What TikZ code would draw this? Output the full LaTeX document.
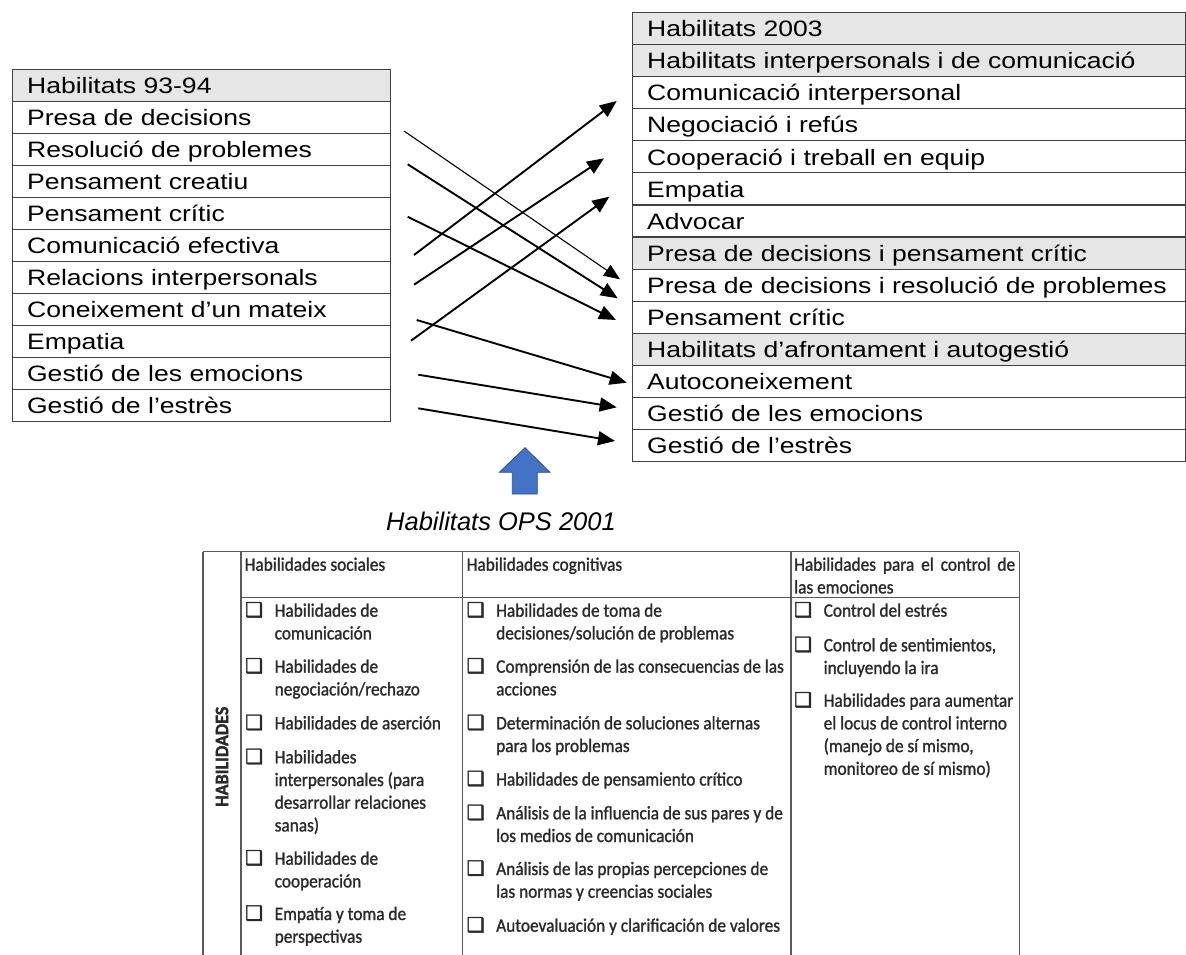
\documentclass[tikz,border=0pt]{standalone}
\usepackage{fontspec}
\setmainfont{Liberation Sans}
\newfontfamily\tabfont[FakeStretch=1.19]{Liberation Sans}
\newfontfamily\capfont{Liberation Sans}
\newfontfamily\opsfont[FakeStretch=0.91,FakeBold=1.2]{Carlito}
\newfontfamily\habfont[FakeStretch=0.95,FakeBold=1.5]{Carlito}
\newfontfamily\symfont[FakeBold=2]{DejaVu Sans}
\usetikzlibrary{arrows.meta}
\definecolor{tabline}{HTML}{404040}
\definecolor{headfill}{HTML}{E6E6E6}
\definecolor{opsline}{HTML}{5A5A5A}
\definecolor{opstext}{HTML}{2A2A2A}
\definecolor{blockblue}{HTML}{4472C4}
\definecolor{blockedge}{HTML}{2F528F}
\newcommand\chkbox{\makebox[29.5pt][l]{{\symfont\fontsize{20}{20}\selectfont ❑}}}
\newcommand\opsitem[2]{\parbox[t]{#1}{\raggedright\let\\\newline\hangindent=29.5pt\hangafter=1\noindent\chkbox #2}}
\tikzset{
  trow/.style={draw=tabline, line width=1.2pt, anchor=north west, inner xsep=14.5pt, inner ysep=0pt,
    text height=21.6pt, text depth=5pt, align=left, font=\tabfont\fontsize{22.3}{26}\selectfont},
  lrow/.style={trow, text width=349pt, minimum height=32pt},
  rrow/.style={trow, text width=524pt, minimum height=32.1pt},
  hd/.style={fill=headfill},
  conn/.style={line width=1.9pt, -{Triangle[length=17pt,width=14pt]}},
  thinconn/.style={line width=1.1pt, -{Triangle[length=16pt,width=13pt]}},
  opsnode/.style={anchor=base west, inner sep=0pt, text=opstext, font=\opsfont\fontsize{19}{22.7}\selectfont},
  opsrule/.style={draw=opsline, line width=1.3pt},
}
\begin{document}
\begin{tikzpicture}[x=1pt,y=-1pt]
\useasboundingbox (0,0) rectangle (1186,954);
\fill[white] (0,0) rectangle (1186,954);

% ---- left table (Habilitats 93-94)
\node[lrow,hd] (L0) at (12,69) {Habilitats 93-94};
\node[lrow] (L1) at (12,101) {Presa de decisions};
\node[lrow] (L2) at (12,133) {Resolució de problemes};
\node[lrow] (L3) at (12,165) {Pensament creatiu};
\node[lrow] (L4) at (12,197) {Pensament crític};
\node[lrow] (L5) at (12,229) {Comunicació efectiva};
\node[lrow] (L6) at (12,261) {Relacions interpersonals};
\node[lrow] (L7) at (12,293) {Coneixement d’un mateix};
\node[lrow] (L8) at (12,325) {Empatia};
\node[lrow] (L9) at (12,357) {Gestió de les emocions};
\node[lrow] (L10) at (12,389) {Gestió de l’estrès};

% ---- right table (Habilitats 2003)
\node[rrow,hd] (R0) at (632,11.7) {Habilitats 2003};
\node[rrow,hd] (R1) at (632,43.8) {Habilitats interpersonals i de comunicació};
\node[rrow] (R2) at (632,75.9) {Comunicació interpersonal};
\node[rrow] (R3) at (632,108.0) {Negociació i refús};
\node[rrow] (R4) at (632,140.1) {Cooperació i treball en equip};
\node[rrow] (R5) at (632,172.2) {Empatia};
\node[rrow] (R6) at (632,204.3) {Advocar};
\node[rrow,hd] (R7) at (632,236.4) {Presa de decisions i pensament crític};
\node[rrow] (R8) at (632,268.5) {Presa de decisions i resolució de problemes};
\node[rrow] (R9) at (632,300.6) {Pensament crític};
\node[rrow,hd] (R10) at (632,332.7) {Habilitats d’afrontament i autogestió};
\node[rrow] (R11) at (632,364.8) {Autoconeixement};
\node[rrow] (R12) at (632,396.9) {Gestió de les emocions};
\node[rrow] (R13) at (632,429.0) {Gestió de l’estrès};

% ---- connector ends
\coordinate (a1s) at (404,131);   \coordinate (a1e) at (620,279.3);
\coordinate (a2s) at (407.7,164.3); \coordinate (a2e) at (617.7,298.3);
\coordinate (a3s) at (407.7,216.7); \coordinate (a3e) at (616,320);
\coordinate (a4s) at (414,255);   \coordinate (a4e) at (616.7,101);
\coordinate (a5s) at (414,284.7); \coordinate (a5e) at (604,158.3);
\coordinate (a6s) at (411,340.7); \coordinate (a6e) at (609.3,196.7);
\coordinate (a7s) at (416.7,320); \coordinate (a7e) at (626.7,382.7);
\coordinate (a8s) at (418.3,374.7); \coordinate (a8e) at (616.7,407.3);
\coordinate (a9s) at (418.3,408.3); \coordinate (a9e) at (615,441);

\draw[thinconn] (a1s) -- (a1e);
\draw[conn] (a2s) -- (a2e);
\draw[conn] (a3s) -- (a3e);
\draw[conn] (a4s) -- (a4e);
\draw[conn] (a5s) -- (a5e);
\draw[conn] (a6s) -- (a6e);
\draw[conn] (a7s) -- (a7e);
\draw[conn] (a8s) -- (a8e);
\draw[conn] (a9s) -- (a9e);

% ---- blue block arrow
\draw[fill=blockblue, draw=blockedge, line width=0.8pt]
  (525,447.7) -- (550,472.3) -- (537.3,472.3) -- (537.3,494) -- (512.3,494)
  -- (512.3,472.3) -- (499.3,472.3) -- cycle;

\node[anchor=base, inner sep=0pt, font=\capfont\itshape\fontsize{25.5}{25.5}\selectfont] (cap) at (501,530) {Habilitats OPS 2001};

% ---- OPS table grid
\draw[opsrule] (203,551.5) -- (1019.3,551.5);
\draw[opsrule] (241,597.7) -- (1019.3,597.7);
\draw[opsrule] (203,551.5) -- (203,956);
\draw[opsrule] (241,551.5) -- (241,956);
\draw[opsrule] (462.7,551.5) -- (462.7,956);
\draw[opsrule] (791,551.5) -- (791,956);
\draw[opsrule] (1019.3,551.5) -- (1019.3,956);

\node[rotate=90, inner sep=0pt, text=opstext, font=\habfont\bfseries\fontsize{19}{19}\selectfont] (hab) at (222,756.7) {HABILIDADES};

\node[opsnode] (h1) at (244.5,570.7) {Habilidades sociales};
\node[opsnode] (h2) at (466.5,570.7) {Habilidades cognitivas};
\node[opsnode] (h3) at (794,570.7) {\parbox[t]{221pt}{\makebox[221pt][s]{Habilidades para el control de}\\las emociones}};

% column 1
\node[opsnode] (s1) at (245,616.7) {\opsitem{300pt}{Habilidades de\\comunicación}};
\node[opsnode] (s2) at (245,672.7) {\opsitem{300pt}{Habilidades de\\negociación/rechazo}};
\node[opsnode] (s3) at (245,729.3) {\opsitem{300pt}{Habilidades de aserción}};
\node[opsnode] (s4) at (245,763.3) {\opsitem{300pt}{Habilidades\\interpersonales (para\\desarrollar relaciones\\sanas)}};
\node[opsnode] (s5) at (245,864.7) {\opsitem{300pt}{Habilidades de\\cooperación}};
\node[opsnode] (s6) at (245,920) {\opsitem{300pt}{Empatía y toma de\\perspectivas}};

% column 2
\node[opsnode] (c1) at (466.5,616.7) {\opsitem{400pt}{Habilidades de toma de\\decisiones/solución de problemas}};
\node[opsnode] (c2) at (466.5,672.7) {\opsitem{400pt}{Comprensión de las consecuencias de las\\acciones}};
\node[opsnode] (c3) at (466.5,729.3) {\opsitem{400pt}{Determinación de soluciones alternas\\para los problemas}};
\node[opsnode] (c4) at (466.5,785.5) {\opsitem{400pt}{Habilidades de pensamiento crítico}};
\node[opsnode] (c5) at (466.5,819.3) {\opsitem{400pt}{Análisis de la influencia de sus pares y de\\los medios de comunicación}};
\node[opsnode] (c6) at (466.5,875) {\opsitem{400pt}{Análisis de las propias percepciones de\\las normas y creencias sociales}};
\node[opsnode] (c7) at (466.5,931.7) {\opsitem{400pt}{Autoevaluación y clarificación de valores}};

% column 3
\node[opsnode] (e1) at (794,616.7) {\opsitem{300pt}{Control del estrés}};
\node[opsnode] (e2) at (794,651.3) {\opsitem{300pt}{Control de sentimientos,\\incluyendo la ira}};
\node[opsnode] (e3) at (794,706.7) {\opsitem{300pt}{Habilidades para aumentar\\el locus de control interno\\(manejo de sí mismo,\\monitoreo de sí mismo)}};
\end{tikzpicture}
\end{document}
